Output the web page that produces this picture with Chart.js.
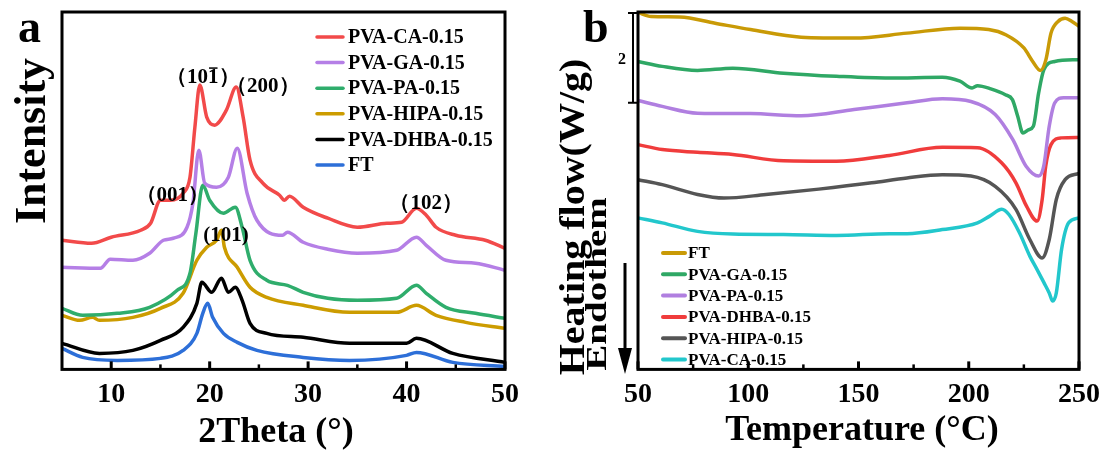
<!DOCTYPE html>
<html>
<head>
<meta charset="utf-8">
<script src="https://cdn.jsdelivr.net/npm/chart.js@4.4.1/dist/chart.umd.min.js"></script>
<style>
  html, body { margin: 0; padding: 0; background: #fff; }
  #wrap { position: relative; width: 1109px; height: 450px; }
  canvas { position: absolute; top: 0; }
  #xrd { left: 0; }
  #dsc { left: 555px; }
</style>
</head>
<body>
<div id="wrap">
  <canvas id="xrd" width="555" height="450"></canvas>
  <canvas id="dsc" width="554" height="450"></canvas>
</div>
<script>
const SERIF = "'Liberation Serif', 'Times New Roman', serif";

// ---- panel a : XRD (2Theta vs intensity, a.u.) ----
const xrdTicks = [10, 20, 30, 40, 50];
const xrdMinor = [15, 25, 35, 45];

const caX = [5, 8, 10, 13, 14, 15, 16, 17.3, 18, 18.5, 19, 19.7, 20.5, 21.7, 22.7, 23.4, 24.1, 25.4, 27.1, 27.6, 28.1, 29.5, 32, 35, 38, 39.5, 41, 42, 43, 45, 48, 50];
const caY = [128, 125, 131, 138, 145, 168, 168, 175, 191, 241, 283, 251, 243, 258, 281, 251, 208, 185, 173, 168, 172, 161, 150, 141, 145, 146, 160, 153, 141, 133, 128, 120];
const gaX = [5, 8.9, 9.9, 12.2, 13.9, 15.3, 16.3, 17.7, 18.3, 18.9, 19.5, 20.7, 21.9, 22.8, 23.8, 24.8, 27.4, 27.9, 29.5, 32, 35, 39, 41, 42, 44, 47, 50];
const gaY = [101, 100, 109, 108, 115, 128, 130, 141, 165, 218, 185, 181, 191, 220, 175, 148, 133, 136, 126, 119, 115, 118, 131, 123, 108, 105, 98];
const paX = [5, 7.1, 10.6, 13.9, 16.7, 18, 18.6, 19.3, 20, 21.4, 22.6, 23.3, 24.1, 25.8, 27.9, 29.5, 32, 35, 39, 41, 42, 44, 47, 50];
const paY = [60, 53, 55, 61, 78, 95, 135, 183, 168, 155, 161, 141, 108, 88, 83, 76, 70, 68, 70, 83, 75, 61, 55, 50];
const hipaX = [5, 6.8, 8.1, 8.8, 12.2, 15, 17.3, 18.7, 19.7, 20.7, 21.2, 21.5, 22.8, 24.1, 25.8, 29.5, 34.2, 39, 41, 43, 46, 50];
const hipaY = [53, 48, 51, 48, 51, 60, 75, 108, 121, 128, 138, 121, 101, 81, 71, 63, 56, 56, 63, 53, 46, 40];
const dhbaX = [5, 8.8, 12.2, 15, 17.3, 18.7, 19.2, 20.2, 21.2, 21.9, 22.6, 23.3, 24.1, 25.8, 29.5, 34.2, 40, 41, 44.7, 50];
const dhbaY = [25, 15, 18, 28, 41, 65, 86, 76, 90, 76, 81, 68, 45, 35, 31, 25, 25, 30, 15, 6];
const ftX = [5, 7.1, 10.6, 15, 17.3, 18.7, 19.3, 19.8, 20.3, 21.4, 22.8, 24.8, 29.5, 34.2, 40, 41, 44.7, 50];
const ftY = [20, 11, 8, 10, 18, 35, 55, 65, 51, 35, 26, 18, 11, 8, 13, 16, 6, 2];

const peakText = ['（101）', '（200）', '（001）', '(101)', '（102）'];
const peakX = [19.3, 25.4, 16.2, 21.65, 42];
const peakY = [290, 282, 173, 133, 165];
const peakBar = [true, false, false, false, false];

// ---- panel b : DSC (temperature vs heat flow, W/g, offset) ----
const dscTicks = [50, 100, 150, 200, 250];
const dscMinor = [75, 125, 175, 225];

const dFtT = [50, 56, 69, 85, 101, 124, 148, 172, 196, 209, 217, 225, 229, 232.5, 235, 237.3, 240.5, 243.7, 246.8, 250];
const dFtV = [7.94, 7.85, 7.84, 7.70, 7.56, 7.39, 7.37, 7.48, 7.59, 7.56, 7.44, 7.15, 6.85, 6.65, 6.89, 7.48, 7.74, 7.81, 7.74, 7.63];
const dGaT = [50, 61, 77, 93, 116, 140, 164, 188, 196, 201.5, 204, 210, 216.6, 219.8, 222.2, 224.6, 227, 229.3, 231.7, 234.1, 239, 250];
const dGaV = [6.85, 6.74, 6.65, 6.70, 6.59, 6.52, 6.48, 6.50, 6.41, 6.26, 6.31, 6.24, 6.11, 6.0, 5.63, 5.26, 5.33, 5.41, 6.15, 6.67, 6.85, 6.89];
const dPaT = [50, 61, 77, 101, 124, 148, 172, 188, 201, 212, 220, 226, 231.7, 234, 236.5, 239, 243, 250];
const dPaV = [5.98, 5.85, 5.70, 5.69, 5.64, 5.78, 5.93, 6.02, 5.96, 5.67, 5.11, 4.52, 4.30, 4.52, 5.41, 5.93, 6.04, 6.04];
const dDhbaT = [50, 61, 77, 93, 116, 140, 164, 188, 204, 215, 221.4, 226.2, 231, 233.3, 234.9, 237.3, 242, 250];
const dDhbaV = [5.0, 4.89, 4.83, 4.78, 4.64, 4.63, 4.76, 4.94, 4.93, 4.59, 4.15, 3.63, 3.30, 3.78, 4.52, 5.0, 5.15, 5.16];
const dHipaT = [50, 61, 77, 89, 108, 132, 156, 172, 188, 201, 212, 221.4, 227.7, 233.3, 236.5, 239.7, 243.7, 250];
const dHipaV = [4.22, 4.11, 3.89, 3.81, 3.89, 4.01, 4.15, 4.26, 4.33, 4.30, 4.07, 3.56, 2.89, 2.48, 2.89, 3.78, 4.22, 4.36];
const dCaT = [50, 61, 77, 93, 116, 140, 164, 172, 188, 204, 209.5, 215, 218.3, 223, 227.7, 231, 234.1, 236.5, 238.1, 239.7, 242.1, 245.3, 250];
const dCaV = [3.37, 3.26, 3.07, 3.01, 3.0, 2.98, 3.02, 3.02, 3.11, 3.26, 3.41, 3.56, 3.44, 3.04, 2.52, 2.22, 1.93, 1.70, 1.52, 1.70, 2.67, 3.26, 3.37];
const scaleBarValue = 2; // W/g

function pts(xs, ys) {
    return xs.map((x, i) => ({ x: x, y: ys[i] }));
}

function line(label, xs, ys, color, width) {
    return {
        label: label,
        data: pts(xs, ys),
        borderColor: color,
        backgroundColor: color,
        borderWidth: width,
        pointRadius: 0,
        cubicInterpolationMode: 'monotone',
        clip: 4
    };
}

// box round the plot, inward ticks on the bottom axis
const framePlugin = {
    id: 'frame',
    afterDatasetsDraw(chart, args, opts) {
        const { ctx, chartArea: a } = chart;
        const sx = chart.scales.x;
        ctx.save();
        ctx.strokeStyle = '#000';
        ctx.lineWidth = 3;
        ctx.strokeRect(a.left, a.top, a.right - a.left, a.bottom - a.top);
        ctx.lineCap = 'butt';
        opts.major.forEach(v => {
            const x = sx.getPixelForValue(v);
            ctx.beginPath(); ctx.moveTo(x, a.bottom); ctx.lineTo(x, a.bottom - 8); ctx.stroke();
        });
        ctx.lineWidth = 2.5;
        opts.minor.forEach(v => {
            const x = sx.getPixelForValue(v);
            ctx.beginPath(); ctx.moveTo(x, a.bottom); ctx.lineTo(x, a.bottom - 5); ctx.stroke();
        });
        ctx.restore();
    }
};

// legend inside the plot
const boxLegend = {
    id: 'boxLegend',
    afterDraw(chart, args, o) {
        const ctx = chart.ctx;
        ctx.save();
        ctx.font = 'bold ' + o.size + 'px ' + SERIF;
        ctx.textBaseline = 'middle';
        ctx.textAlign = 'left';
        chart.data.datasets.forEach((ds, i) => {
            const y = o.y + i * o.step;
            ctx.strokeStyle = ds.borderColor;
            ctx.lineWidth = o.lineWidth;
            ctx.lineCap = 'round';
            ctx.beginPath(); ctx.moveTo(o.x, y); ctx.lineTo(o.x + o.len, y); ctx.stroke();
            ctx.fillStyle = '#000';
            ctx.fillText(ds.label, o.x + o.len + o.gap, y + 1);
        });
        ctx.restore();
    }
};

// axis titles and panel letters
const texts = {
    id: 'texts',
    afterDraw(chart, args, o) {
        const ctx = chart.ctx;
        o.items.forEach(t => {
            ctx.save();
            ctx.fillStyle = '#000';
            ctx.font = 'bold ' + t.size + 'px ' + SERIF;
            ctx.textAlign = t.align || 'center';
            ctx.textBaseline = t.baseline || 'alphabetic';
            ctx.translate(t.x, t.y);
            if (t.rotate) ctx.rotate(-Math.PI / 2);
            if (t.squash) ctx.scale(1, t.squash);
            ctx.fillText(t.text, 0, 0);
            ctx.restore();
        });
    }
};

// Miller indices above the XRD peaks
const peakLabels = {
    id: 'peakLabels',
    afterDatasetsDraw(chart) {
        const { ctx, scales } = chart;
        ctx.save();
        ctx.fillStyle = '#000';
        ctx.strokeStyle = '#000';
        ctx.font = 'bold 21px ' + SERIF;
        ctx.textAlign = 'center';
        ctx.textBaseline = 'middle';
        peakText.forEach((txt, i) => {
            const x = scales.x.getPixelForValue(peakX[i]);
            const y = scales.y.getPixelForValue(peakY[i]);
            ctx.fillText(txt, x, y);
            if (peakBar[i]) {
                const w = ctx.measureText(txt).width;
                const w1 = ctx.measureText(txt.slice(0, 3)).width;
                const w2 = ctx.measureText(txt.slice(3, 4)).width;
                const left = x - w / 2 + w1;
                ctx.lineWidth = 1.5;
                ctx.beginPath(); ctx.moveTo(left + 1, y - 10); ctx.lineTo(left + w2 - 1, y - 10); ctx.stroke();
            }
        });
        ctx.restore();
    }
};

// 2 W/g scale bar and the endotherm arrow
const dscMarks = {
    id: 'dscMarks',
    afterDraw(chart, args, o) {
        const { ctx, scales } = chart;
        const top = scales.y.getPixelForValue(scales.y.max - 0.02);
        const bot = scales.y.getPixelForValue(scales.y.max - 0.02 - scaleBarValue);
        ctx.save();
        ctx.strokeStyle = '#000';
        ctx.fillStyle = '#000';
        ctx.lineWidth = 2;
        ctx.beginPath();
        ctx.moveTo(o.barX, top); ctx.lineTo(o.barX, bot);
        ctx.moveTo(o.barX - 5, top); ctx.lineTo(o.barX + 5, top);
        ctx.moveTo(o.barX - 5, bot); ctx.lineTo(o.barX + 5, bot);
        ctx.stroke();
        ctx.font = 'bold 16px ' + SERIF;
        ctx.textAlign = 'center';
        ctx.textBaseline = 'middle';
        ctx.fillText(String(scaleBarValue), o.barX - 11, (top + bot) / 2 + 2);
        // arrow
        ctx.lineWidth = 3;
        ctx.beginPath(); ctx.moveTo(o.arrowX, o.arrowTop); ctx.lineTo(o.arrowX, o.arrowBot - 20); ctx.stroke();
        ctx.beginPath();
        ctx.moveTo(o.arrowX - 7, o.arrowBot - 26);
        ctx.lineTo(o.arrowX + 7, o.arrowBot - 26);
        ctx.lineTo(o.arrowX, o.arrowBot);
        ctx.closePath(); ctx.fill();
        ctx.restore();
    }
};

function xAxis(min, max, ticks) {
    return {
        type: 'linear',
        min: min,
        max: max,
        afterBuildTicks: s => { s.ticks = ticks.map(v => ({ value: v })); },
        grid: { display: false, drawTicks: false },
        border: { display: false },
        ticks: {
            color: '#000',
            padding: 9,
            autoSkip: false,
            maxRotation: 0,
            font: { family: SERIF, size: 28, weight: 'bold' }
        }
    };
}

Chart.defaults.font.family = SERIF;

new Chart(document.getElementById('xrd'), {
    type: 'line',
    data: {
        datasets: [
            line('PVA-CA-0.15', caX, caY, '#f24a4a', 3.5),
            line('PVA-GA-0.15', gaX, gaY, '#b57fe6', 3.5),
            line('PVA-PA-0.15', paX, paY, '#2fad6c', 3.5),
            line('PVA-HIPA-0.15', hipaX, hipaY, '#cc9c00', 3.5),
            line('PVA-DHBA-0.15', dhbaX, dhbaY, '#000000', 3.5),
            line('FT', ftX, ftY, '#2d6fd8', 3.5)
        ]
    },
    options: {
        responsive: false,
        animation: false,
        devicePixelRatio: 1,
        layout: { padding: { left: 62, top: 12, right: 50, bottom: 29 } },
        scales: {
            x: xAxis(5, 50, xrdTicks),
            y: { type: 'linear', min: -1, max: 356, display: false }
        },
        plugins: {
            legend: { display: false },
            tooltip: { enabled: false },
            frame: { major: xrdTicks, minor: xrdMinor },
            boxLegend: { x: 317, y: 37, step: 25.6, len: 26, gap: 5, size: 20, lineWidth: 3.5 },
            texts: {
                items: [
                    { text: 'a', x: 18, y: 42, size: 46, align: 'left' },
                    { text: 'Intensity', x: 45, y: 141, size: 44, rotate: true },
                    { text: '2Theta (°)', x: 276, y: 442, size: 36 }
                ]
            }
        }
    },
    plugins: [framePlugin, boxLegend, texts, peakLabels]
});

new Chart(document.getElementById('dsc'), {
    type: 'line',
    data: {
        datasets: [
            line('FT', dFtT, dFtV, '#c99a06', 3.5),
            line('PVA-GA-0.15', dGaT, dGaV, '#2fa865', 3.5),
            line('PVA-PA-0.15', dPaT, dPaV, '#b07fe0', 3.5),
            line('PVA-DHBA-0.15', dDhbaT, dDhbaV, '#f03c3c', 3.5),
            line('PVA-HIPA-0.15', dHipaT, dHipaV, '#555555', 3.5),
            line('PVA-CA-0.15', dCaT, dCaV, '#22c7cc', 3.5)
        ]
    },
    options: {
        responsive: false,
        animation: false,
        devicePixelRatio: 1,
        layout: { padding: { left: 83, top: 12, right: 27, bottom: 29 } },
        scales: {
            x: xAxis(50, 250, dscTicks),
            y: { type: 'linear', min: 0, max: 7.95, display: false }
        },
        plugins: {
            legend: { display: false },
            tooltip: { enabled: false },
            frame: { major: dscTicks, minor: dscMinor },
            boxLegend: { x: 108, y: 253, step: 21.3, len: 22, gap: 3, size: 17, lineWidth: 4 },
            dscMarks: { barX: 78, arrowX: 70, arrowTop: 263, arrowBot: 374 },
            texts: {
                items: [
                    { text: 'b', x: 28, y: 42, size: 46, align: 'left' },
                    { text: 'Heating flow(W/g)', x: 29, y: 217, size: 40, rotate: true, squash: 0.9 },
                    { text: 'Endothem', x: 51, y: 284, size: 39, rotate: true, squash: 0.78 },
                    { text: 'Temperature (°C)', x: 307, y: 440, size: 36 }
                ]
            }
        }
    },
    plugins: [framePlugin, boxLegend, texts, dscMarks]
});
</script>
</body>
</html>
